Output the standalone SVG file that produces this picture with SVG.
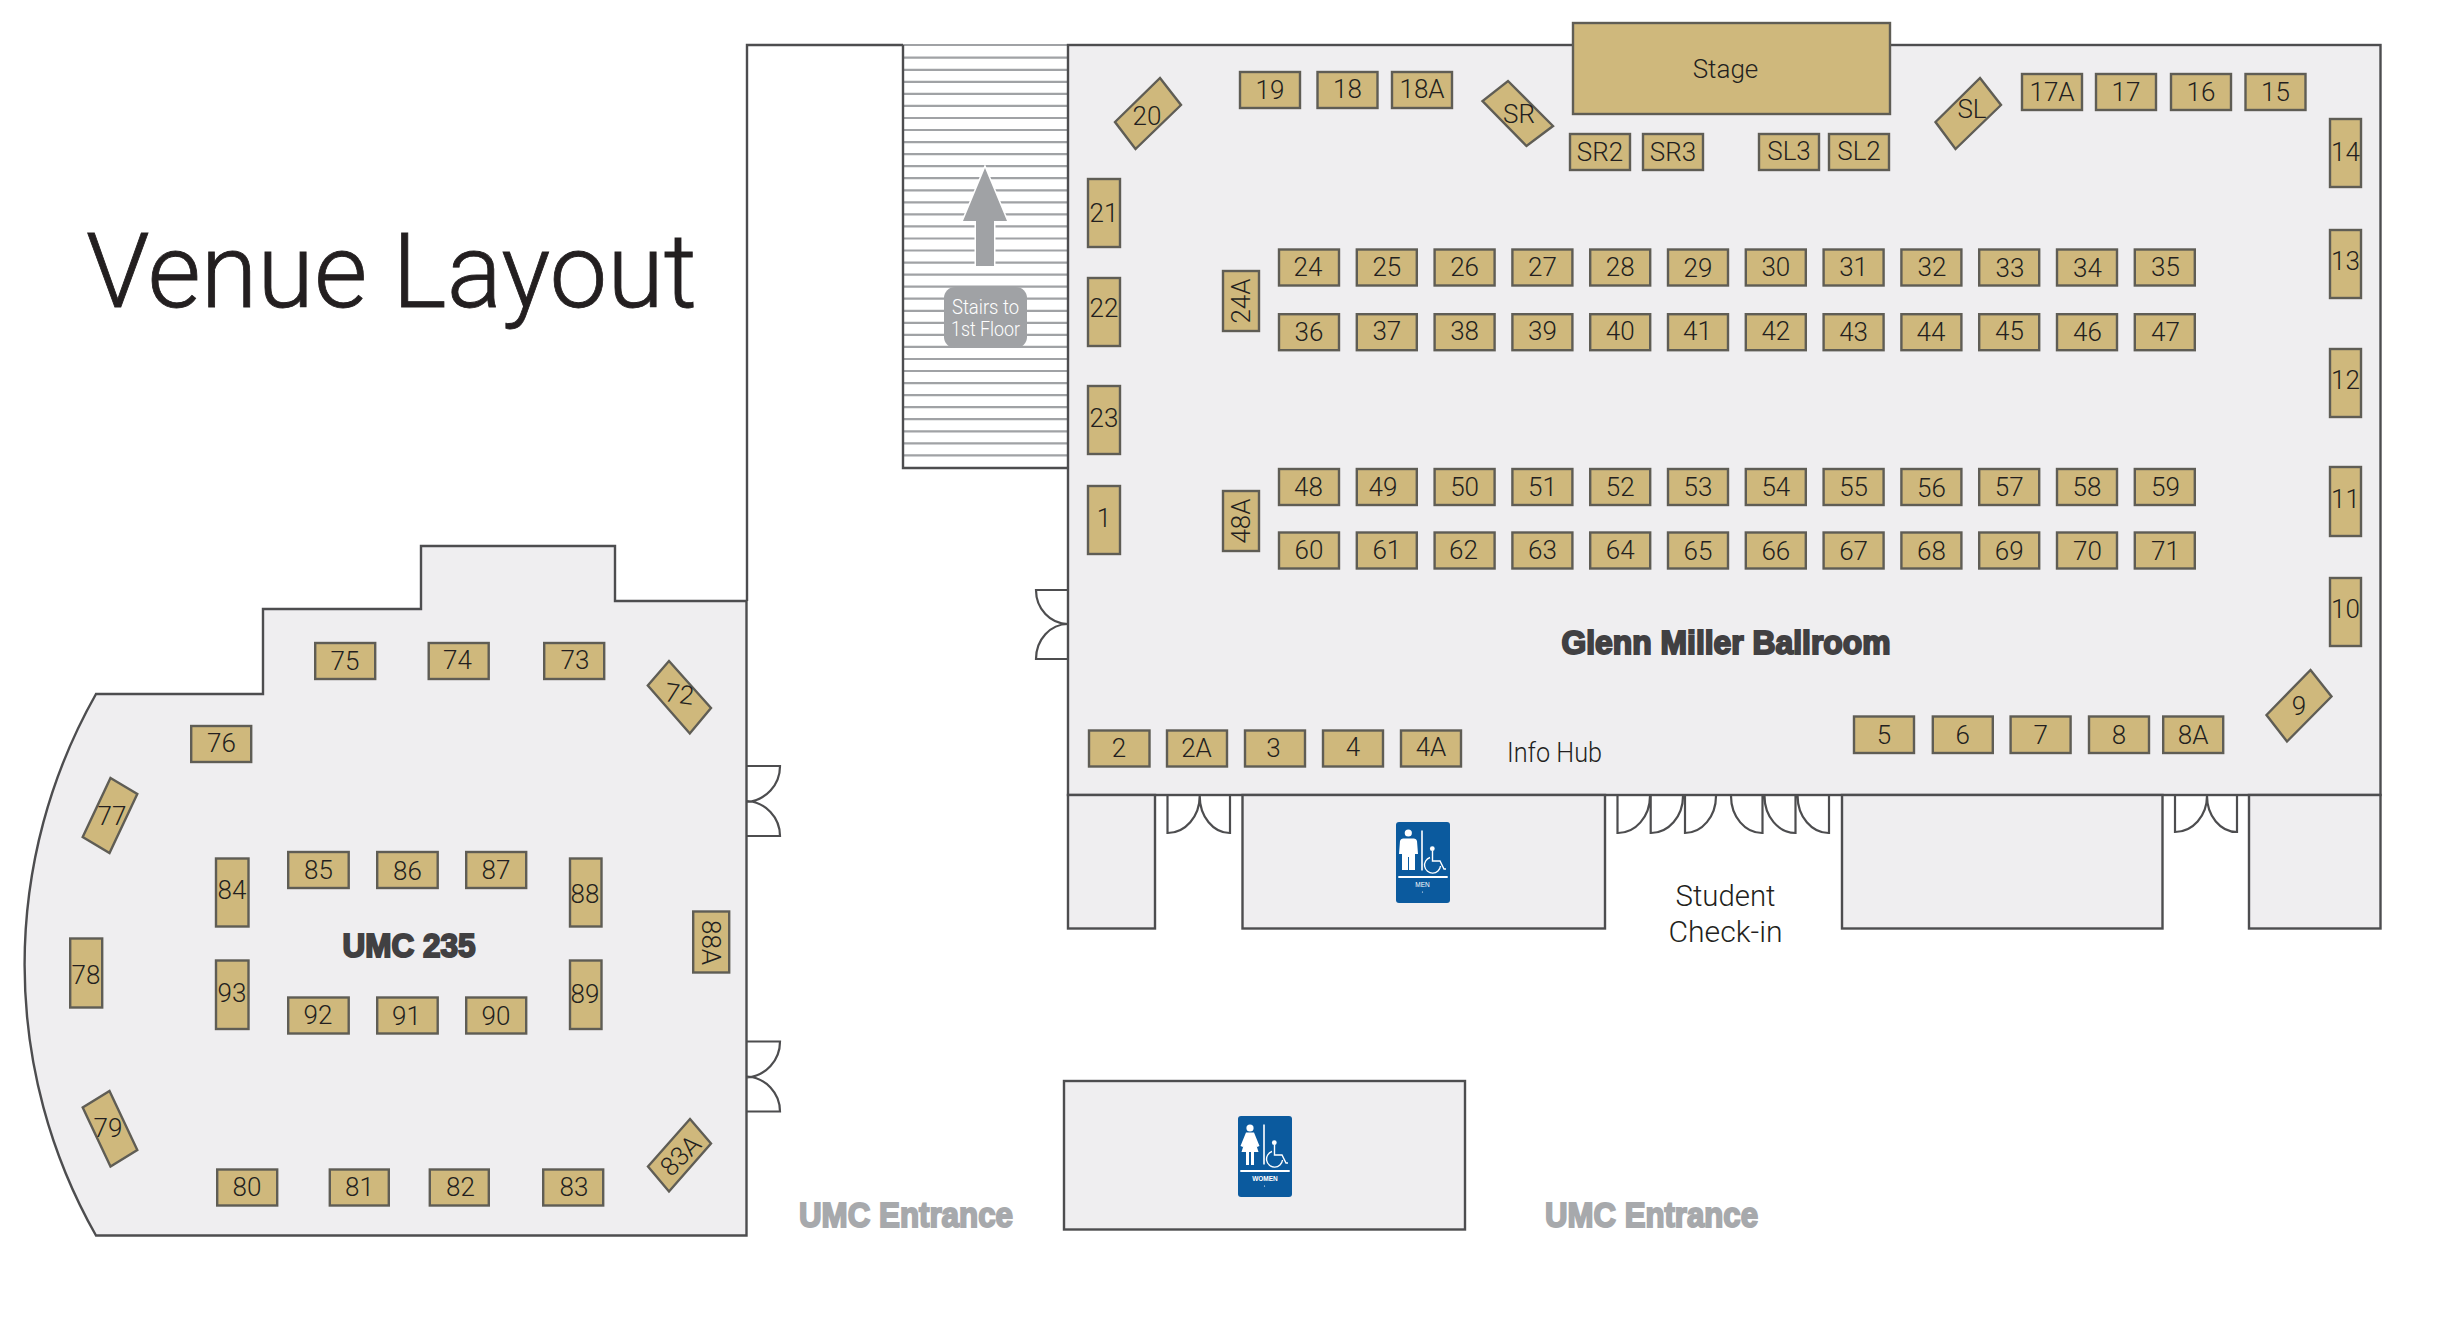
<svg xmlns="http://www.w3.org/2000/svg" width="2444" height="1319" viewBox="0 0 2444 1319">
<style>
.room{fill:#efeef0;stroke:#4d4d4f;stroke-width:2.4}
.wall{fill:none;stroke:#4d4d4f;stroke-width:2.4}
.door{fill:none;stroke:#4d4d4f;stroke-width:2.2}
.t{fill:#cfb87c;stroke:#5f5d55;stroke-width:2.4}
.l{font-family:"Roboto","Liberation Sans",sans-serif;font-weight:300;font-size:26px;fill:#231f20;text-anchor:middle}
.h{font-family:"Liberation Sans Narrow","Liberation Sans",sans-serif;font-weight:700;fill:#414042;stroke:#414042;stroke-width:2;font-size:33px}
.e{fill:#a7a9ac;stroke:#a7a9ac;font-size:35px}
.s{stroke:#a0a2a5;stroke-width:2.2}
.info{font-family:"Roboto","Liberation Sans",sans-serif;font-weight:300;font-size:27px;fill:#231f20;text-anchor:middle}
.w{fill:#fff}
.wl{fill:none;stroke:#fff;stroke-width:1.4}
.sign{font-family:"Liberation Sans",sans-serif;font-weight:700;font-size:6.5px;fill:#fff;text-anchor:middle}
</style>
<defs>
<g id="wheel">
<rect width="54" height="81" rx="3" fill="#0b5a9e"/>
<rect x="25.2" y="8.5" width="1.6" height="40" class="w"/>
<rect x="2.3" y="54" width="49.4" height="2" class="w"/>
<circle cx="36.3" cy="26.7" r="2.4" class="w"/>
<path class="wl" d="M36.5 29V39H44L48 47H50M34 35.5A8 8 0 1 0 44.5 44"/>
<circle cx="26.5" cy="70" r="0.6" class="w"/>
</g>
</defs>

<g id="title"><text x="86" y="306.5" textLength="611" lengthAdjust="spacingAndGlyphs" style="font-family:'Roboto','Liberation Sans',sans-serif;font-weight:300;font-size:103px;fill:#231f20;stroke:#231f20;stroke-width:0.8">Venue Layout</text></g>

<g id="building"><path class="wall" d="M903 45H747V601"/></g>

<g id="stairs">
<path d="M903 45H1068" class="s" fill="none"/>
<path class="s" d="M904 57.7H1067M904 69.8H1067M904 81.8H1067M904 93.9H1067M904 105.9H1067M904 118H1067M904 130H1067M904 142.1H1067M904 154.1H1067M904 166.2H1067M904 178.2H1067M904 190.3H1067M904 202.3H1067M904 214.4H1067M904 226.4H1067M904 238.5H1067M904 250.5H1067M904 262.6H1067M904 274.6H1067M904 286.7H1067M904 298.7H1067M904 310.8H1067M904 322.8H1067M904 334.9H1067M904 346.9H1067M904 359H1067M904 371H1067M904 383.1H1067M904 395.1H1067M904 407.2H1067M904 419.2H1067M904 431.3H1067M904 443.3H1067M904 455.4H1067"/>
<path class="wall" d="M903 45V468H1068"/>
<path d="M985 168L1007 221H994V266H976V221H963Z" fill="#a0a2a5" stroke="#fff" stroke-width="3" paint-order="stroke"/>
<rect x="944" y="287" width="83" height="61" rx="11" fill="#a0a2a5"/>
<text x="985.5" y="314" class="info" style="fill:#fff;font-size:19.5px" textLength="67" lengthAdjust="spacingAndGlyphs">Stairs to</text>
<text x="985.5" y="336" class="info" style="fill:#fff;font-size:19.5px" textLength="69" lengthAdjust="spacingAndGlyphs">1st Floor</text>
</g>

<g id="room-ballroom"><rect class="room" x="1068" y="45" width="1312.5" height="750"/>
<text x="1561.5" y="654" class="h" textLength="329" lengthAdjust="spacingAndGlyphs">Glenn Miller Ballroom</text>
<text x="1554.5" y="762" class="info" textLength="95" lengthAdjust="spacingAndGlyphs">Info Hub</text>
</g>

<g id="room-a"><rect class="room" x="1068" y="795" width="87" height="133.5"/></g>
<g id="room-men"><rect class="room" x="1242.5" y="795" width="362.5" height="133.5"/><use href="#wheel" x="1396" y="822"/>
<circle cx="1408.3" cy="833" r="3.6" class="w"/><path class="w" d="M1403 838.5H1414Q1416.5 838.5 1417 841L1418 854H1415V870H1409V857H1408V870H1402V854H1399L1400 841Q1400.5 838.5 1403 838.5Z"/>
<text x="1422.5" y="886.5" class="sign" style="font-weight:400">MEN</text></g>
<g id="room-c"><rect class="room" x="1842" y="795" width="320.5" height="133.5"/></g>
<g id="room-d"><rect class="room" x="2249" y="795" width="131.5" height="133.5"/></g>
<g id="room-women"><rect class="room" x="1064" y="1081" width="401" height="148.5"/><use href="#wheel" x="1238" y="1116"/>
<circle cx="1250" cy="1128" r="3.6" class="w"/><path class="w" d="M1246 1132.5H1254L1259.5 1146L1257 1147L1256 1144L1258.5 1152H1254V1165H1251V1152H1249V1165H1246V1152H1241.5L1244 1144L1243 1147L1240.5 1146Z"/>
<text x="1265" y="1181" class="sign">WOMEN</text></g>

<g id="room-umc"><path class="room" d="M96 694H263V609H421V546H615V601H746.5V1235.5H96A549 549 0 0 1 96 694Z"/>
<text x="342.5" y="957" class="h" textLength="133" lengthAdjust="spacingAndGlyphs">UMC 235</text>
</g>

<g id="doors">
<path class="door" d="M747 766H780A36 36 0 0 1 747 802M747 836H780A35 35 0 0 0 747 801"/>
<path class="door" d="M747 1041.5H780A36 36 0 0 1 747 1077.5M747 1111.5H780A35 35 0 0 0 747 1076.5"/>
<path class="door" d="M1068 590H1036A32 34 0 0 0 1068 624M1068 659H1036A32 35 0 0 1 1068 624"/>
<path class="door" d="M1167.5 796V833A32 37 0 0 0 1199.7 796M1230 796V833A30 37 0 0 1 1199.7 796"/>
<path class="door" d="M1617.5 796V833A32 37 0 0 0 1650 796M1650.7 796V833A32 37 0 0 0 1683 796M1685 796V833A31 37 0 0 0 1716 796"/>
<path class="door" d="M1762.5 796V833A31 37 0 0 1 1731 796M1795.5 796V833A31 37 0 0 1 1764.5 796M1829 796V833A31 37 0 0 1 1797.6 796"/>
<path class="door" d="M2175 796V832A32 36 0 0 0 2207 796M2237 796V832A30 36 0 0 1 2207 796"/>
</g>

<g id="labels">
<text x="1725.5" y="906" class="info" style="font-size:29px" textLength="100" lengthAdjust="spacingAndGlyphs">Student</text>
<text x="1725.5" y="942" class="info" style="font-size:29px" textLength="114" lengthAdjust="spacingAndGlyphs">Check-in</text>
<text x="799" y="1227" class="h e" textLength="214" lengthAdjust="spacingAndGlyphs">UMC Entrance</text>
<text x="1545" y="1227" class="h e" textLength="213" lengthAdjust="spacingAndGlyphs">UMC Entrance</text>
</g>

<g id="connectors"></g>

<g id="stage"><rect class="t" x="1573" y="23" width="317" height="91"/><text x="1725.5" y="78" class="l">Stage</text></g>
<g id="t19"><rect class="t" x="1240" y="72" width="60" height="36"/><text x="1270" y="99" class="l">19</text></g>
<g id="t18"><rect class="t" x="1317.5" y="72" width="60" height="36"/><text x="1347.5" y="98" class="l">18</text></g>
<g id="t18A"><rect class="t" x="1392" y="72" width="60" height="36"/><text x="1422" y="98" class="l">18A</text></g>
<g id="t20"><polygon class="t" points="1160,78 1181,105 1135.5,149 1115,122"/><text x="1147" y="125" class="l">20</text></g>
<g id="tSR"><polygon class="t" points="1508,81 1553,126 1526.5,146 1482.5,101"/><text x="1519" y="123" class="l">SR</text></g>
<g id="tSR2"><rect class="t" x="1570" y="134" width="60" height="36"/><text x="1600" y="161" class="l">SR2</text></g>
<g id="tSR3"><rect class="t" x="1643" y="134" width="60" height="36"/><text x="1673" y="161" class="l">SR3</text></g>
<g id="tSL3"><rect class="t" x="1759" y="134" width="60" height="36"/><text x="1789" y="160" class="l">SL3</text></g>
<g id="tSL2"><rect class="t" x="1829" y="134" width="60" height="36"/><text x="1859" y="160" class="l">SL2</text></g>
<g id="tSL"><polygon class="t" points="1980,78 2001,105 1955.5,149 1935.5,122"/><text x="1972" y="118" class="l">SL</text></g>
<g id="t17A"><rect class="t" x="2022" y="74" width="60" height="36"/><text x="2052" y="101" class="l">17A</text></g>
<g id="t17"><rect class="t" x="2096" y="74" width="60" height="36"/><text x="2126" y="101" class="l">17</text></g>
<g id="t16"><rect class="t" x="2171" y="74" width="60" height="36"/><text x="2201" y="101" class="l">16</text></g>
<g id="t15"><rect class="t" x="2245.5" y="74" width="60" height="36"/><text x="2275.5" y="101" class="l">15</text></g>
<g id="t14"><rect class="t" x="2330" y="119" width="31" height="68"/><text x="2345.5" y="161" class="l">14</text></g>
<g id="t13"><rect class="t" x="2330" y="230" width="31" height="68"/><text x="2345.5" y="270" class="l">13</text></g>
<g id="t12"><rect class="t" x="2330" y="349" width="31" height="68"/><text x="2345.5" y="389" class="l">12</text></g>
<g id="t11"><rect class="t" x="2330" y="467" width="31" height="69"/><text x="2345.5" y="508" class="l">11</text></g>
<g id="t10"><rect class="t" x="2330" y="578" width="31" height="68"/><text x="2345.5" y="618" class="l">10</text></g>
<g id="t9"><polygon class="t" points="2310.5,670 2331.5,696.5 2287,741.5 2266.5,715"/><text x="2299" y="715" class="l">9</text></g>
<g id="t21"><rect class="t" x="1088" y="179" width="32" height="68"/><text x="1104" y="222" class="l">21</text></g>
<g id="t22"><rect class="t" x="1088" y="278" width="32" height="68"/><text x="1104" y="317" class="l">22</text></g>
<g id="t23"><rect class="t" x="1088" y="386" width="32" height="68"/><text x="1104" y="427" class="l">23</text></g>
<g id="t1"><rect class="t" x="1088" y="486" width="32" height="68"/><text x="1104" y="527" class="l">1</text></g>
<g id="t24A"><rect class="t" x="1223" y="271" width="36" height="60"/><text x="1240.5" y="310" class="l" transform="rotate(-90 1240.5 301)">24A</text></g>
<g id="t48A"><rect class="t" x="1223" y="491" width="36" height="60"/><text x="1240.5" y="530" class="l" transform="rotate(-90 1240.5 521)">48A</text></g>

<g id="t24"><rect class="t" x="1279" y="249.5" width="60" height="36"/><text x="1308" y="276" class="l">24</text></g>
<g id="t25"><rect class="t" x="1356.8" y="249.5" width="60" height="36"/><text x="1386.8" y="276" class="l">25</text></g>
<g id="t26"><rect class="t" x="1434.6" y="249.5" width="60" height="36"/><text x="1464.6" y="276" class="l">26</text></g>
<g id="t27"><rect class="t" x="1512.4" y="249.5" width="60" height="36"/><text x="1542.4" y="276" class="l">27</text></g>
<g id="t28"><rect class="t" x="1590.2" y="249.5" width="60" height="36"/><text x="1620.2" y="276" class="l">28</text></g>
<g id="t29"><rect class="t" x="1668" y="249.5" width="60" height="36"/><text x="1698" y="277" class="l">29</text></g>
<g id="t30"><rect class="t" x="1745.8" y="249.5" width="60" height="36"/><text x="1775.8" y="276" class="l">30</text></g>
<g id="t31"><rect class="t" x="1823.6" y="249.5" width="60" height="36"/><text x="1853.6" y="276" class="l">31</text></g>
<g id="t32"><rect class="t" x="1901.4" y="249.5" width="60" height="36"/><text x="1932" y="276" class="l">32</text></g>
<g id="t33"><rect class="t" x="1979.2" y="249.5" width="60" height="36"/><text x="2010" y="277" class="l">33</text></g>
<g id="t34"><rect class="t" x="2057" y="249.5" width="60" height="36"/><text x="2087.5" y="277" class="l">34</text></g>
<g id="t35"><rect class="t" x="2134.8" y="249.5" width="60" height="36"/><text x="2165.5" y="276" class="l">35</text></g>

<g id="t36"><rect class="t" x="1279" y="314.2" width="60" height="36"/><text x="1309" y="341" class="l">36</text></g>
<g id="t37"><rect class="t" x="1356.8" y="314.2" width="60" height="36"/><text x="1386.8" y="340" class="l">37</text></g>
<g id="t38"><rect class="t" x="1434.6" y="314.2" width="60" height="36"/><text x="1464.6" y="340" class="l">38</text></g>
<g id="t39"><rect class="t" x="1512.4" y="314.2" width="60" height="36"/><text x="1542.4" y="340" class="l">39</text></g>
<g id="t40"><rect class="t" x="1590.2" y="314.2" width="60" height="36"/><text x="1620.2" y="340" class="l">40</text></g>
<g id="t41"><rect class="t" x="1668" y="314.2" width="60" height="36"/><text x="1697.5" y="340" class="l">41</text></g>
<g id="t42"><rect class="t" x="1745.8" y="314.2" width="60" height="36"/><text x="1775.8" y="340" class="l">42</text></g>
<g id="t43"><rect class="t" x="1823.6" y="314.2" width="60" height="36"/><text x="1853.6" y="341" class="l">43</text></g>
<g id="t44"><rect class="t" x="1901.4" y="314.2" width="60" height="36"/><text x="1931" y="341" class="l">44</text></g>
<g id="t45"><rect class="t" x="1979.2" y="314.2" width="60" height="36"/><text x="2009.5" y="340" class="l">45</text></g>
<g id="t46"><rect class="t" x="2057" y="314.2" width="60" height="36"/><text x="2087.5" y="341" class="l">46</text></g>
<g id="t47"><rect class="t" x="2134.8" y="314.2" width="60" height="36"/><text x="2165.5" y="341" class="l">47</text></g>

<g id="t48"><rect class="t" x="1279" y="469" width="60" height="36"/><text x="1308.5" y="495.5" class="l">48</text></g>
<g id="t49"><rect class="t" x="1356.8" y="469" width="60" height="36"/><text x="1383" y="495.5" class="l">49</text></g>
<g id="t50"><rect class="t" x="1434.6" y="469" width="60" height="36"/><text x="1464.6" y="495.5" class="l">50</text></g>
<g id="t51"><rect class="t" x="1512.4" y="469" width="60" height="36"/><text x="1542.4" y="495.5" class="l">51</text></g>
<g id="t52"><rect class="t" x="1590.2" y="469" width="60" height="36"/><text x="1620.2" y="495.5" class="l">52</text></g>
<g id="t53"><rect class="t" x="1668" y="469" width="60" height="36"/><text x="1698" y="495.5" class="l">53</text></g>
<g id="t54"><rect class="t" x="1745.8" y="469" width="60" height="36"/><text x="1775.8" y="495.5" class="l">54</text></g>
<g id="t55"><rect class="t" x="1823.6" y="469" width="60" height="36"/><text x="1853.6" y="495.5" class="l">55</text></g>
<g id="t56"><rect class="t" x="1901.4" y="469" width="60" height="36"/><text x="1931.4" y="496.5" class="l">56</text></g>
<g id="t57"><rect class="t" x="1979.2" y="469" width="60" height="36"/><text x="2009.2" y="495.5" class="l">57</text></g>
<g id="t58"><rect class="t" x="2057" y="469" width="60" height="36"/><text x="2087" y="495.5" class="l">58</text></g>
<g id="t59"><rect class="t" x="2134.8" y="469" width="60" height="36"/><text x="2165.5" y="495.5" class="l">59</text></g>

<g id="t60"><rect class="t" x="1279" y="532.5" width="60" height="36"/><text x="1309" y="558.5" class="l">60</text></g>
<g id="t61"><rect class="t" x="1356.8" y="532.5" width="60" height="36"/><text x="1386.8" y="558.5" class="l">61</text></g>
<g id="t62"><rect class="t" x="1434.6" y="532.5" width="60" height="36"/><text x="1463.5" y="558.5" class="l">62</text></g>
<g id="t63"><rect class="t" x="1512.4" y="532.5" width="60" height="36"/><text x="1542.4" y="558.5" class="l">63</text></g>
<g id="t64"><rect class="t" x="1590.2" y="532.5" width="60" height="36"/><text x="1620.2" y="558.5" class="l">64</text></g>
<g id="t65"><rect class="t" x="1668" y="532.5" width="60" height="36"/><text x="1698" y="559.5" class="l">65</text></g>
<g id="t66"><rect class="t" x="1745.8" y="532.5" width="60" height="36"/><text x="1775.8" y="559.5" class="l">66</text></g>
<g id="t67"><rect class="t" x="1823.6" y="532.5" width="60" height="36"/><text x="1853.6" y="559.5" class="l">67</text></g>
<g id="t68"><rect class="t" x="1901.4" y="532.5" width="60" height="36"/><text x="1931.4" y="559.5" class="l">68</text></g>
<g id="t69"><rect class="t" x="1979.2" y="532.5" width="60" height="36"/><text x="2009.2" y="559.5" class="l">69</text></g>
<g id="t70"><rect class="t" x="2057" y="532.5" width="60" height="36"/><text x="2087.5" y="559.5" class="l">70</text></g>
<g id="t71"><rect class="t" x="2134.8" y="532.5" width="60" height="36"/><text x="2165.5" y="559.5" class="l">71</text></g>

<g id="t2"><rect class="t" x="1089" y="730.5" width="60.5" height="36"/><text x="1119" y="757" class="l">2</text></g>
<g id="t2A"><rect class="t" x="1167" y="730.5" width="60" height="36"/><text x="1196.5" y="757" class="l">2A</text></g>
<g id="t3"><rect class="t" x="1245" y="730.5" width="60" height="36"/><text x="1273.5" y="757" class="l">3</text></g>
<g id="t4"><rect class="t" x="1323" y="730.5" width="60" height="36"/><text x="1353" y="756" class="l">4</text></g>
<g id="t4A"><rect class="t" x="1401" y="730.5" width="60" height="36"/><text x="1431" y="756" class="l">4A</text></g>
<g id="t5"><rect class="t" x="1854" y="716.5" width="60" height="36.5"/><text x="1884" y="743.5" class="l">5</text></g>
<g id="t6"><rect class="t" x="1932.8" y="716.5" width="60" height="36.5"/><text x="1962.8" y="743.5" class="l">6</text></g>
<g id="t7"><rect class="t" x="2010.6" y="716.5" width="60" height="36.5"/><text x="2040.6" y="743.5" class="l">7</text></g>
<g id="t8"><rect class="t" x="2089" y="716.5" width="60" height="36.5"/><text x="2119" y="743.5" class="l">8</text></g>
<g id="t8A"><rect class="t" x="2163.2" y="716.5" width="60" height="36.5"/><text x="2193.2" y="743.5" class="l">8A</text></g>

<g id="t75"><rect class="t" x="315.2" y="643" width="60" height="36"/><text x="345" y="669.5" class="l">75</text></g>
<g id="t74"><rect class="t" x="428.7" y="643" width="60" height="36"/><text x="457.5" y="669" class="l">74</text></g>
<g id="t73"><rect class="t" x="544.2" y="643" width="60" height="36"/><text x="575" y="669" class="l">73</text></g>
<g id="t72"><polygon class="t" points="669,661 711,708 689.8,733.5 647.8,685.5"/><text x="679.5" y="703" class="l" transform="rotate(8 679.5 694)">72</text></g>
<g id="t76"><rect class="t" x="191.2" y="726" width="60" height="36"/><text x="221.5" y="751.5" class="l">76</text></g>
<g id="t77"><polygon class="t" points="110.5,778 137.3,794 109.5,853 82.7,837"/><text x="112" y="825" class="l">77</text></g>
<g id="t78"><rect class="t" x="70.2" y="938.5" width="32" height="69"/><text x="86" y="984" class="l">78</text></g>
<g id="t79"><polygon class="t" points="109.5,1091 137.3,1150 110.5,1166.5 82.7,1107.5"/><text x="108" y="1137" class="l">79</text></g>
<g id="t80"><rect class="t" x="217.2" y="1169.5" width="60" height="36"/><text x="247" y="1195.5" class="l">80</text></g>
<g id="t81"><rect class="t" x="329.8" y="1169.5" width="59" height="36"/><text x="359.5" y="1195.5" class="l">81</text></g>
<g id="t82"><rect class="t" x="429.8" y="1169.5" width="59" height="36"/><text x="460.5" y="1195.5" class="l">82</text></g>
<g id="t83"><rect class="t" x="543.2" y="1169.5" width="60" height="36"/><text x="574" y="1195.5" class="l">83</text></g>
<g id="t83A"><polygon class="t" points="690,1119 711,1143.5 669,1191.5 648,1166.5"/><text x="680.5" y="1164.5" class="l" transform="rotate(-45 680.5 1155.5)">83A</text></g>
<g id="t84"><rect class="t" x="216" y="858.5" width="32.5" height="68"/><text x="232" y="899" class="l">84</text></g>
<g id="t93"><rect class="t" x="216" y="960.5" width="32.5" height="68.5"/><text x="232" y="1002" class="l">93</text></g>
<g id="t88"><rect class="t" x="570" y="858.5" width="31.5" height="68"/><text x="585" y="903" class="l">88</text></g>
<g id="t89"><rect class="t" x="570" y="960.5" width="31.5" height="68.5"/><text x="585" y="1003" class="l">89</text></g>
<g id="t85"><rect class="t" x="288.2" y="852" width="60.5" height="36"/><text x="318.5" y="878.5" class="l">85</text></g>
<g id="t86"><rect class="t" x="377.2" y="852" width="60.5" height="36"/><text x="407.5" y="879.5" class="l">86</text></g>
<g id="t87"><rect class="t" x="466.2" y="852" width="60" height="36"/><text x="496" y="878.5" class="l">87</text></g>
<g id="t92"><rect class="t" x="288.2" y="997.5" width="60.5" height="36"/><text x="318" y="1023.5" class="l">92</text></g>
<g id="t91"><rect class="t" x="377.2" y="997.5" width="60.5" height="36"/><text x="406.5" y="1024.5" class="l">91</text></g>
<g id="t90"><rect class="t" x="466.2" y="997.5" width="60" height="36"/><text x="496" y="1024.5" class="l">90</text></g>
<g id="t88A"><rect class="t" x="693.2" y="911.5" width="36" height="61"/><text x="710.5" y="951.5" class="l" transform="rotate(90 710.5 942.5)">88A</text></g>
</svg>
